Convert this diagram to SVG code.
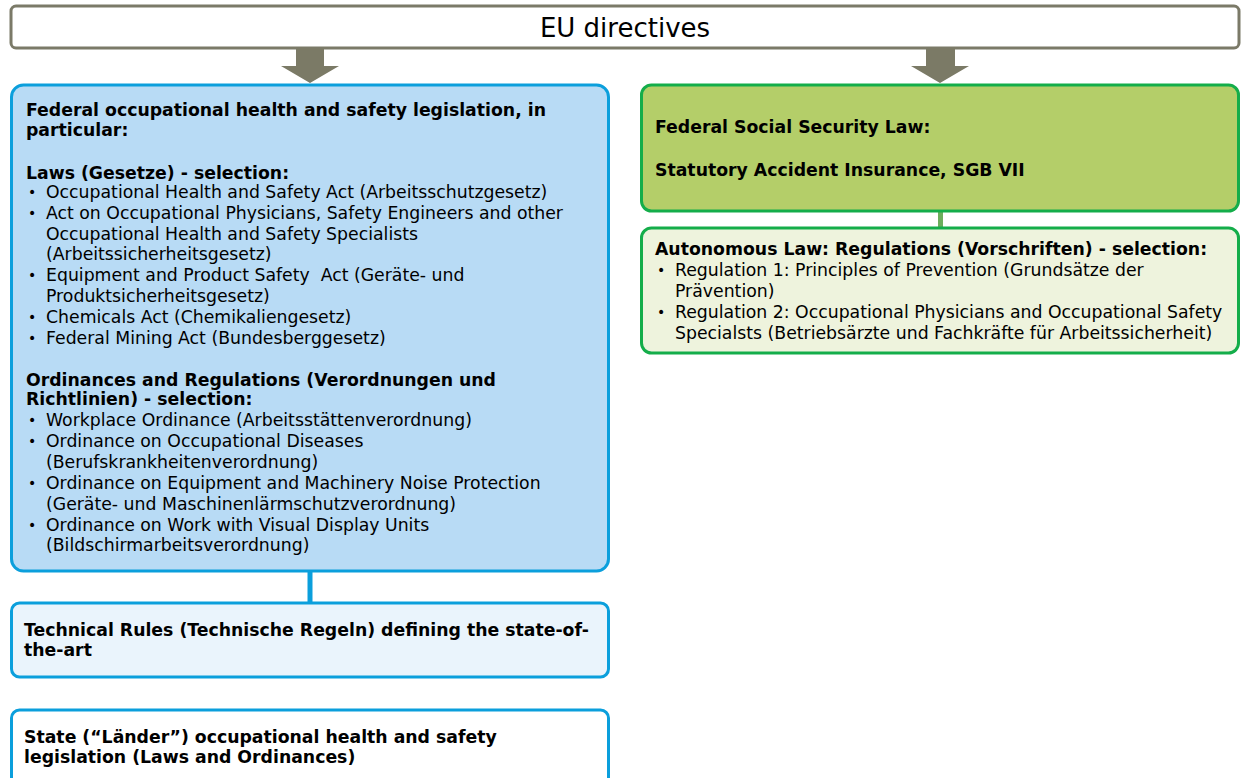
<svg xmlns="http://www.w3.org/2000/svg" width="1243" height="778" viewBox="0 0 1243 778">
<style>
text{font-family:"DejaVu Sans","Verdana",sans-serif;font-size:17.3px;fill:#000;white-space:pre}
.b{font-weight:bold}
.title{font-size:26px}
.blue{stroke:#0b9fdc;stroke-width:3}
.green{stroke:#14ad4a;stroke-width:3}
.arrow{fill:#7b7a66}
.bul{font-size:14px}
</style>
<rect width="1243" height="778" fill="#ffffff"/>
<g id="eu-directives">
<rect x="11" y="6" width="1228" height="42" rx="5" fill="#ffffff" stroke="#7b7a68" stroke-width="3"/>
<text class="title" x="625" y="37" text-anchor="middle">EU directives</text>
</g>
<g id="connectors">
<polygon class="arrow" points="296,48 324,48 324,66 339,66 310,83 281,66 296,66"/>
<polygon class="arrow" points="926,48 955,48 955,66 969,66 940,83 911,66 926,66"/>
<line x1="310" y1="571" x2="310" y2="603" stroke="#0b9fdc" stroke-width="5"/>
<line x1="940.5" y1="211" x2="940.5" y2="228" stroke="#6cae5c" stroke-width="5"/>
</g>
<g id="federal-ohs">
<rect x="11.5" y="85" width="597" height="486" rx="12" fill="#b8dbf5" class="blue"/>
<text class="b" x="26" y="116">Federal occupational health and safety legislation, in</text>
<text class="b" x="26" y="136">particular:</text>
<text class="b" x="26" y="179">Laws (Gesetze) - selection:</text>
<text class="bul" x="28" y="197">•</text><text x="46" y="198">Occupational Health and Safety Act (Arbeitsschutzgesetz)</text>
<text class="bul" x="28" y="218">•</text><text x="46" y="219">Act on Occupational Physicians, Safety Engineers and other</text>
<text x="46" y="240">Occupational Health and Safety Specialists</text>
<text x="46" y="260">(Arbeitssicherheitsgesetz)</text>
<text class="bul" x="28" y="280">•</text><text x="46" y="281">Equipment and Product Safety  Act (Geräte- und</text>
<text x="46" y="302">Produktsicherheitsgesetz)</text>
<text class="bul" x="28" y="322">•</text><text x="46" y="323">Chemicals Act (Chemikaliengesetz)</text>
<text class="bul" x="28" y="343">•</text><text x="46" y="344">Federal Mining Act (Bundesberggesetz)</text>
<text class="b" x="26" y="386">Ordinances and Regulations (Verordnungen und</text>
<text class="b" x="26" y="405">Richtlinien) - selection:</text>
<text class="bul" x="28" y="425">•</text><text x="46" y="426">Workplace Ordinance (Arbeitsstättenverordnung)</text>
<text class="bul" x="28" y="446">•</text><text x="46" y="447">Ordinance on Occupational Diseases</text>
<text x="46" y="468">(Berufskrankheitenverordnung)</text>
<text class="bul" x="28" y="488">•</text><text x="46" y="489">Ordinance on Equipment and Machinery Noise Protection</text>
<text x="46" y="510">(Geräte- und Maschinenlärmschutzverordnung)</text>
<text class="bul" x="28" y="530">•</text><text x="46" y="531">Ordinance on Work with Visual Display Units</text>
<text x="46" y="551">(Bildschirmarbeitsverordnung)</text>
</g>
<g id="technical-rules">
<rect x="11.5" y="603" width="597" height="74" rx="8" fill="#eaf4fc" class="blue"/>
<text class="b" x="24" y="636">Technical Rules (Technische Regeln) defining the state-of-</text>
<text class="b" x="24" y="656">the-art</text>
</g>
<g id="state-legislation">
<rect x="11.5" y="710" width="597" height="90" rx="8" fill="#ffffff" class="blue"/>
<text class="b" x="24" y="743">State (“Länder”) occupational health and safety</text>
<text class="b" x="24" y="763">legislation (Laws and Ordinances)</text>
</g>
<g id="social-security">
<rect x="641.5" y="85" width="597" height="126" rx="10" fill="#b4ce69" class="green"/>
<text class="b" x="655" y="133">Federal Social Security Law:</text>
<text class="b" x="655" y="176">Statutory Accident Insurance, SGB VII</text>
</g>
<g id="autonomous-law">
<rect x="641.5" y="228" width="597" height="125" rx="10" fill="#eef3dd" class="green"/>
<text class="b" x="655" y="255">Autonomous Law: Regulations (Vorschriften) - selection:</text>
<text class="bul" x="657" y="275">•</text><text x="675" y="276">Regulation 1: Principles of Prevention (Grundsätze der</text>
<text x="675" y="297">Prävention)</text>
<text class="bul" x="657" y="317">•</text><text x="675" y="318">Regulation 2: Occupational Physicians and Occupational Safety</text>
<text x="675" y="339">Specialsts (Betriebsärzte und Fachkräfte für Arbeitssicherheit)</text>
</g>
</svg>
